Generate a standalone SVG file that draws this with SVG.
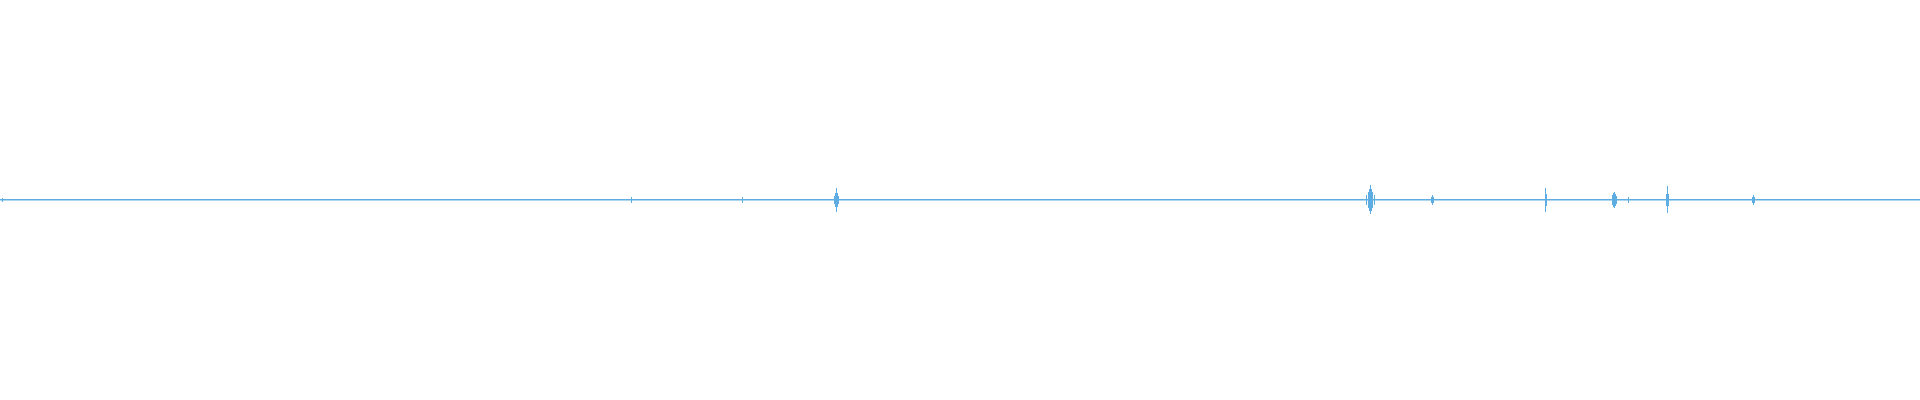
<svg xmlns="http://www.w3.org/2000/svg" width="1920" height="400" viewBox="0 0 1920 400">
<style>.w{stroke:#5DADE2;stroke-width:1;fill:none}.b{fill:#5DADE2}</style>
<rect width="1920" height="400" fill="#fff"/>
<g id="waveform" transform="translate(0.5,0)">
<rect class="b" x="-0.5" y="199" width="1920" height="1.5"/>
<path class="w" d="M836 188V212M835 193V207M837 193V207M838 196V204M834 196V204
M1370 185V214M1369 189V211M1371 189V211M1368 192V208M1372 192V208M1366 195V205M1374 195V205
M1432 195V205M1431 197V203M1433 197V203
M1545 188V212M1546 194V206
M1613 193V207M1614 192V208M1615 194V206M1612 195V205M1616 196V204M1628 197V203
M1667 186V213M1666 194V206M1668 194V206
M1753 195V205M1752 197V203M1754 197V203
M742 197V203M631 197V203M2 198V202"/>
</g>
</svg>
